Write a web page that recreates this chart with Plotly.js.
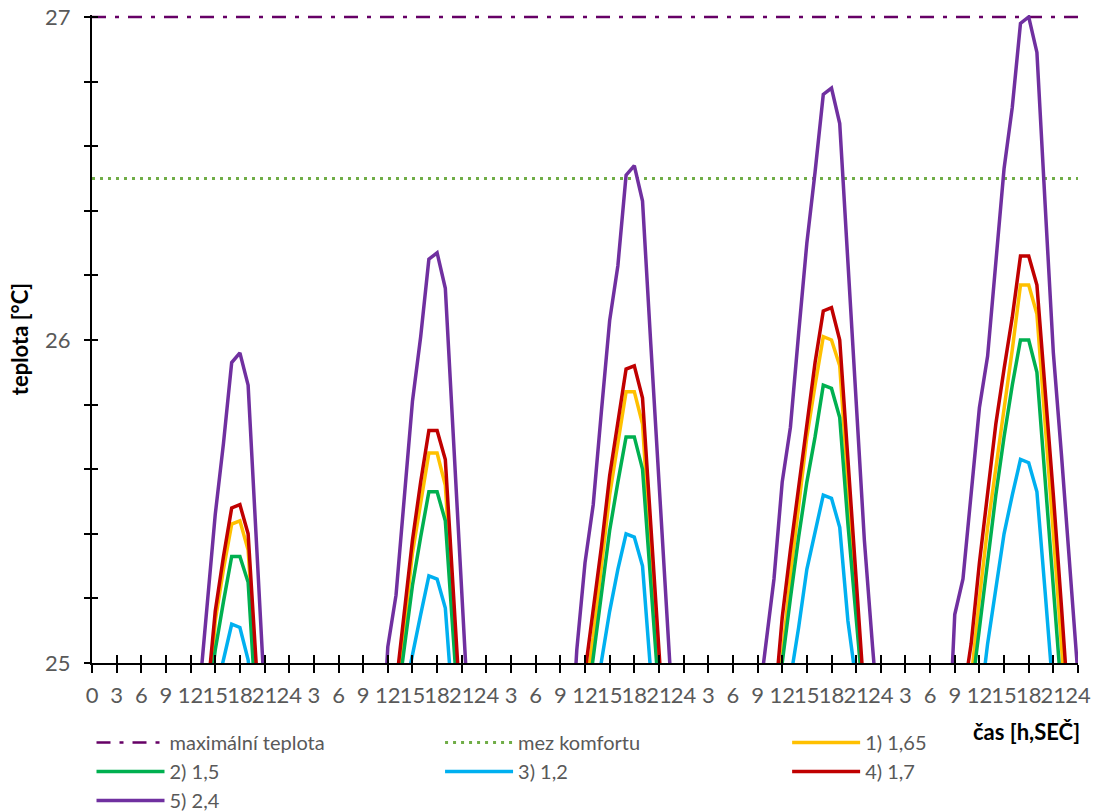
<!DOCTYPE html>
<html>
<head>
<meta charset="utf-8">
<script src="https://cdn.plot.ly/plotly-3.0.1.min.js"></script>
<style>html,body{margin:0;padding:0;background:#fff;}#chart{width:1097px;height:812px;}</style>
</head>
<body>
<div id="chart"></div>
<script>
const _ = null;
// hours 0..120 (5 days); values below 25 °C run off the bottom of the axis (null = not visible / not read)
const hours = [];
for (let h = 0; h <= 120; h++) hours.push(h);

const tickVals = [0,3,6,9,12,15,18,21,24,27,30,33,36,39,42,45,48,51,54,57,60,63,66,69,72,75,78,81,84,87,90,93,96,99,102,105,108,111,114,117,120];
const tickText = ['0','3','6','9','12','15','18','21','24','3','6','9','12','15','18','21','24','3','6','9','12','15','18','21','24','3','6','9','12','15','18','21','24','3','6','9','12','15','18','21','24'];
const yTickVals = [25,25.2,25.4,25.6,25.8,26,26.2,26.4,26.6,26.8,27];
const yTickText = ['25','','','','','26','','','','','27'];

const maxTemp = 27;        // maximální teplota
const comfortLimit = 26.5; // mez komfortu

const names = ['maximální teplota','mez komfortu','1) 1,65','2) 1,5','3) 1,2','4) 1,7','5) 2,4'];
const legendOf = ['legend','legend2','legend3','legend','legend2','legend3','legend'];

const s1 = [ // 1) 1,65
  _,_,_,_,_,_,_,_,_,_,_,_,_,_,24.80,25.13,25.29,25.43,25.44,25.35,24.96,_,_,_,
  _,_,_,_,_,_,_,_,_,_,_,_,_,24.85,25.11,25.34,25.50,25.65,25.65,25.55,25.15,24.75,_,_,
  _,_,_,_,_,_,_,_,_,_,_,_,24.90,25.08,25.30,25.52,25.68,25.84,25.84,25.74,25.34,24.96,_,_,
  _,_,_,_,_,_,_,_,_,_,_,24.80,25.02,25.27,25.49,25.70,25.86,26.01,26.00,25.92,25.55,25.18,24.82,_,
  _,_,_,_,_,_,_,_,_,_,_,24.95,25.20,25.42,25.60,25.79,25.97,26.17,26.17,26.08,25.75,25.40,25.05,24.70,
  _];
const s2 = [ // 2) 1,5
  _,_,_,_,_,_,_,_,_,_,_,_,_,_,24.85,25.04,25.19,25.33,25.33,25.25,24.84,_,_,_,
  _,_,_,_,_,_,_,_,_,_,_,_,_,24.85,25.04,25.24,25.39,25.53,25.53,25.44,25.07,24.70,_,_,
  _,_,_,_,_,_,_,_,_,_,_,_,24.82,25.02,25.21,25.41,25.56,25.70,25.70,25.60,25.25,24.90,_,_,
  _,_,_,_,_,_,_,_,_,_,_,24.80,25.01,25.20,25.39,25.56,25.70,25.86,25.85,25.76,25.43,25.12,24.85,_,
  _,_,_,_,_,_,_,_,_,_,_,24.90,25.11,25.32,25.52,25.70,25.86,26.00,26.00,25.90,25.57,25.24,24.90,_,
  _];
const s3 = [ // 3) 1,2
  _,_,_,_,_,_,_,_,_,_,_,_,_,_,_,24.90,25.01,25.12,25.11,25.01,24.80,_,_,_,
  _,_,_,_,_,_,_,_,_,_,_,_,_,_,24.90,25.03,25.15,25.27,25.26,25.17,24.83,_,_,_,
  _,_,_,_,_,_,_,_,_,_,_,_,_,24.85,25.01,25.16,25.29,25.40,25.39,25.30,24.97,_,_,_,
  _,_,_,_,_,_,_,_,_,_,_,_,_,24.95,25.11,25.29,25.40,25.52,25.51,25.42,25.13,24.94,_,_,
  _,_,_,_,_,_,_,_,_,_,_,_,24.85,25.06,25.23,25.40,25.52,25.63,25.62,25.53,25.22,24.90,_,_,
  _];
const s4 = [ // 4) 1,7
  _,_,_,_,_,_,_,_,_,_,_,_,_,_,24.89,25.16,25.33,25.48,25.49,25.40,24.99,_,_,_,
  _,_,_,_,_,_,_,_,_,_,_,_,_,24.93,25.16,25.38,25.56,25.72,25.72,25.63,25.21,24.79,_,_,
  _,_,_,_,_,_,_,_,_,_,_,_,24.97,25.16,25.36,25.58,25.74,25.91,25.92,25.82,25.43,25.04,24.65,_,
  _,_,_,_,_,_,_,_,_,_,_,24.85,25.14,25.35,25.55,25.75,25.93,26.09,26.10,26.00,25.64,25.26,24.89,_,
  _,_,_,_,_,_,_,_,_,_,24.89,25.06,25.31,25.53,25.74,25.91,26.07,26.26,26.26,26.17,25.86,25.52,25.17,24.80,
  _];
const s5 = [ // 5) 2,4
  _,_,_,_,_,_,_,_,_,_,_,_,_,24.89,25.17,25.46,25.68,25.93,25.96,25.86,25.38,24.90,_,_,
  _,_,_,_,_,_,_,_,_,_,_,24.60,25.05,25.21,25.52,25.81,26.01,26.25,26.27,26.16,25.69,25.20,24.75,_,
  _,_,_,_,_,_,_,_,_,_,24.60,25.04,25.31,25.49,25.78,26.06,26.23,26.51,26.54,26.43,25.99,25.57,25.14,24.71,
  _,_,_,_,_,_,_,_,_,24.85,25.06,25.26,25.56,25.73,26.02,26.30,26.52,26.76,26.78,26.67,26.24,25.81,25.38,25.05,
  24.74,_,_,_,_,_,_,_,24.60,25.15,25.26,25.53,25.79,25.95,26.24,26.53,26.72,26.98,27.00,26.89,26.42,25.96,25.64,25.30,
  24.96];

const colors = ['#660066','#70AD47','#FFC000','#00B050','#00B0F0','#C00000','#7030A0'];
const FONT = 'Lato, "Open Sans", sans-serif';

const traces = [
  {x:[0,120], y:[maxTemp,maxTemp], name:names[0], mode:'lines', legend:legendOf[0],
   line:{color:colors[0], width:2.5, dash:'14px,9px,4px,9px'}},
  {x:[0,120], y:[comfortLimit,comfortLimit], name:names[1], mode:'lines', legend:legendOf[1],
   line:{color:colors[1], width:3, dash:'3px,5px'}},
];
[s1,s2,s3,s4,s5].forEach((s,i)=>{
  traces.push({x:hours, y:s, name:names[i+2], mode:'lines', connectgaps:false, legend:legendOf[i+2],
    line:{color:colors[i+2], width:3.5}});
});
traces.push({x:[null], y:[null], xaxis:'x2', yaxis:'y2', showlegend:false, hoverinfo:'skip', mode:'lines'});

const legendBase = {orientation:'v', xanchor:'left', y:-0.0926, yanchor:'top', itemwidth:68,
  traceorder:'normal', tracegroupgap:0, font:{family:FONT, size:20, color:'#595959'}, bgcolor:'rgba(0,0,0,0)'};

const layout = {
  width:1097, height:812,
  margin:{l:92, r:19, t:15, b:149, autoexpand:false},
  paper_bgcolor:'#fff', plot_bgcolor:'#fff',
  font:{family:FONT, size:22, color:'#595959'},
  showlegend:true,
  xaxis:{range:[0,120], tickmode:'array', tickvals:tickVals, ticktext:tickText, tickangle:0,
    ticks:'outside', ticklen:8, tickwidth:2, tickcolor:'#000',
    showline:true, linecolor:'#000', linewidth:2, showgrid:false, zeroline:false,
    tickfont:{family:FONT, size:22, color:'#595959'}, ticklabelstandoff:4},
  xaxis2:{range:[0,120], overlaying:'x', anchor:'y2', side:'bottom', tickmode:'array', tickvals:tickVals,
    ticks:'inside', ticklen:8, tickwidth:2, tickcolor:'#000', showticklabels:false,
    showline:false, showgrid:false, zeroline:false},
  yaxis:{range:[25,27.006], tickmode:'array', tickvals:yTickVals, ticktext:yTickText,
    ticks:'outside', ticklen:6, tickwidth:2, tickcolor:'#000',
    showline:true, linecolor:'#000', linewidth:2, showgrid:false, zeroline:false,
    tickfont:{family:FONT, size:22, color:'#595959'}, ticklabelstandoff:9,
    title:{text:'teplota [°C]', font:{family:FONT, size:22, color:'#000', weight:700}, standoff:10}},
  yaxis2:{range:[25,27.006], overlaying:'y', anchor:'x2', side:'left', tickmode:'array', tickvals:yTickVals,
    ticks:'inside', ticklen:6, tickwidth:2, tickcolor:'#000', showticklabels:false,
    showline:false, showgrid:false, zeroline:false},
  legend:Object.assign({}, legendBase, {x:-0.0005}),
  legend2:Object.assign({}, legendBase, {x:0.353}),
  legend3:Object.assign({}, legendBase, {x:0.705}),
  annotations:[{text:'čas [h,SEČ]', xref:'paper', yref:'paper', x:1.004, y:-0.105,
    xanchor:'right', yanchor:'middle', showarrow:false,
    font:{family:FONT, size:22, color:'#000', weight:700}}]
};

Plotly.newPlot('chart', traces, layout, {displayModeBar:false, staticPlot:true});
</script>
</body>
</html>
